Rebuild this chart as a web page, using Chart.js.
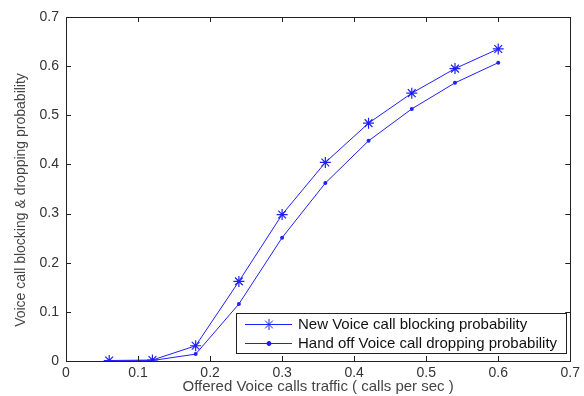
<!DOCTYPE html>
<html>
<head>
<meta charset="utf-8">
<script src="https://cdn.jsdelivr.net/npm/chart.js@4.4.1/dist/chart.umd.min.js"></script>
<style>
  html, body { margin: 0; padding: 0; background: #fff; }
</style>
</head>
<body>
<canvas id="chart" width="584" height="396"></canvas>
<script>
// offered traffic (calls per sec)
const traffic = [0.06, 0.12, 0.18, 0.24, 0.30, 0.36, 0.42, 0.48, 0.54, 0.60];
const newCallBlocking = [0.001, 0.002, 0.031, 0.162, 0.298, 0.404, 0.484, 0.545, 0.595, 0.635];
const handoffDropping = [0.000, 0.001, 0.014, 0.116, 0.251, 0.362, 0.448, 0.513, 0.566, 0.607];
const tickValues = [0, 0.1, 0.2, 0.3, 0.4, 0.5, 0.6, 0.7];
const seriesNames = ['New Voice call blocking probability', 'Hand off Voice call dropping probability'];
const yTitle = 'Voice call blocking & dropping probability';

const lineColor = '#2020ff';
const font = 'Liberation Sans, Arial, sans-serif';

// matlab style box with inward ticks + legend inside the axes
const boxPlugin = {
    id: 'matlabBox',
    afterDatasetsDraw(chart) {
        const ctx = chart.ctx;
        const a = chart.chartArea;
        const xs = chart.scales.x, ys = chart.scales.y;
        ctx.save();
        ctx.strokeStyle = '#222';
        ctx.lineWidth = 1;
        ctx.strokeRect(Math.round(a.left) + 0.5, Math.round(a.top) + 0.5,
            Math.round(a.right - a.left), Math.round(a.bottom - a.top));
        const tl = 5;
        ctx.beginPath();
        tickValues.forEach(v => {
            const px = Math.round(xs.getPixelForValue(v)) + 0.5;
            ctx.moveTo(px, a.bottom); ctx.lineTo(px, a.bottom - tl);
            ctx.moveTo(px, a.top); ctx.lineTo(px, a.top + tl);
            const py = Math.round(ys.getPixelForValue(v)) + 0.5;
            ctx.moveTo(a.left, py); ctx.lineTo(a.left + tl, py);
            ctx.moveTo(a.right, py); ctx.lineTo(a.right - tl, py);
        });
        ctx.stroke();

        // y axis title (sits a bit below the middle in the original)
        ctx.save();
        ctx.translate(21, 200);
        ctx.rotate(-Math.PI / 2);
        ctx.fillStyle = '#444';
        ctx.font = '14px ' + font;
        ctx.textAlign = 'center';
        ctx.textBaseline = 'middle';
        ctx.fillText(yTitle, 0, 0);
        ctx.restore();

        // legend
        const lx = 236.5, ly = 313.5, lw = 330, lh = 40;
        ctx.fillStyle = '#fff';
        ctx.fillRect(lx, ly, lw, lh);
        ctx.strokeStyle = '#222';
        ctx.strokeRect(lx, ly, lw, lh);
        const rows = [324, 343];
        chart.data.datasets.forEach((ds, i) => {
            const y = rows[i] + 0.5;
            ctx.strokeStyle = lineColor;
            ctx.lineWidth = 1;
            ctx.beginPath();
            ctx.moveTo(245, y); ctx.lineTo(292, y);
            ctx.stroke();
            Chart.helpers.drawPoint(ctx, {
                pointStyle: ds.pointStyle, radius: ds.pointRadius, borderWidth: 1.2
            }, 269, y);
            if (ds.pointStyle === 'circle') {
                ctx.fillStyle = lineColor;
                ctx.fill();
            }
            ctx.fillStyle = '#111';
            ctx.font = '15px ' + font;
            ctx.textBaseline = 'middle';
            ctx.fillText(ds.label, 298, y);
        });
        ctx.restore();
    }
};

new Chart(document.getElementById('chart'), {
    type: 'line',
    data: {
        datasets: [
            {
                label: seriesNames[0],
                data: traffic.map((x, i) => ({ x: x, y: newCallBlocking[i] })),
                borderColor: lineColor,
                backgroundColor: lineColor,
                borderWidth: 1,
                pointStyle: 'star',
                pointRadius: 5.5,
                pointBorderWidth: 1.2
            },
            {
                label: seriesNames[1],
                data: traffic.map((x, i) => ({ x: x, y: handoffDropping[i] })),
                borderColor: lineColor,
                backgroundColor: lineColor,
                borderWidth: 1,
                pointStyle: 'circle',
                pointRadius: 2,
                pointBorderWidth: 0
            }
        ]
    },
    options: {
        responsive: false,
        animation: false,
        layout: { padding: { left: 0, right: 12, top: 17, bottom: 0 } },
        plugins: { legend: { display: false }, tooltip: { enabled: false } },
        scales: {
            x: {
                type: 'linear', min: 0, max: 0.7,
                afterFit: s => { s.height = 35; },
                afterBuildTicks: s => { s.ticks = tickValues.map(v => ({ value: v })); },
                grid: { display: false, drawTicks: false },
                border: { display: false },
                ticks: {
                    padding: 4, color: '#333',
                    font: { family: font, size: 14 },
                    callback: v => String(Number(v.toFixed(1)))
                },
                title: {
                    display: true, text: 'Offered Voice calls traffic ( calls per sec )',
                    color: '#444', font: { family: font, size: 15 },
                    padding: { top: 0, bottom: 0 }
                }
            },
            y: {
                type: 'linear', min: 0, max: 0.7,
                afterFit: s => { s.width = 66; },
                afterBuildTicks: s => { s.ticks = tickValues.map(v => ({ value: v })); },
                grid: { display: false, drawTicks: false },
                border: { display: false },
                ticks: {
                    padding: 7, color: '#333',
                    font: { family: font, size: 14 },
                    callback: v => String(Number(v.toFixed(1)))
                }
            }
        }
    },
    plugins: [boxPlugin]
});
</script>
</body>
</html>
